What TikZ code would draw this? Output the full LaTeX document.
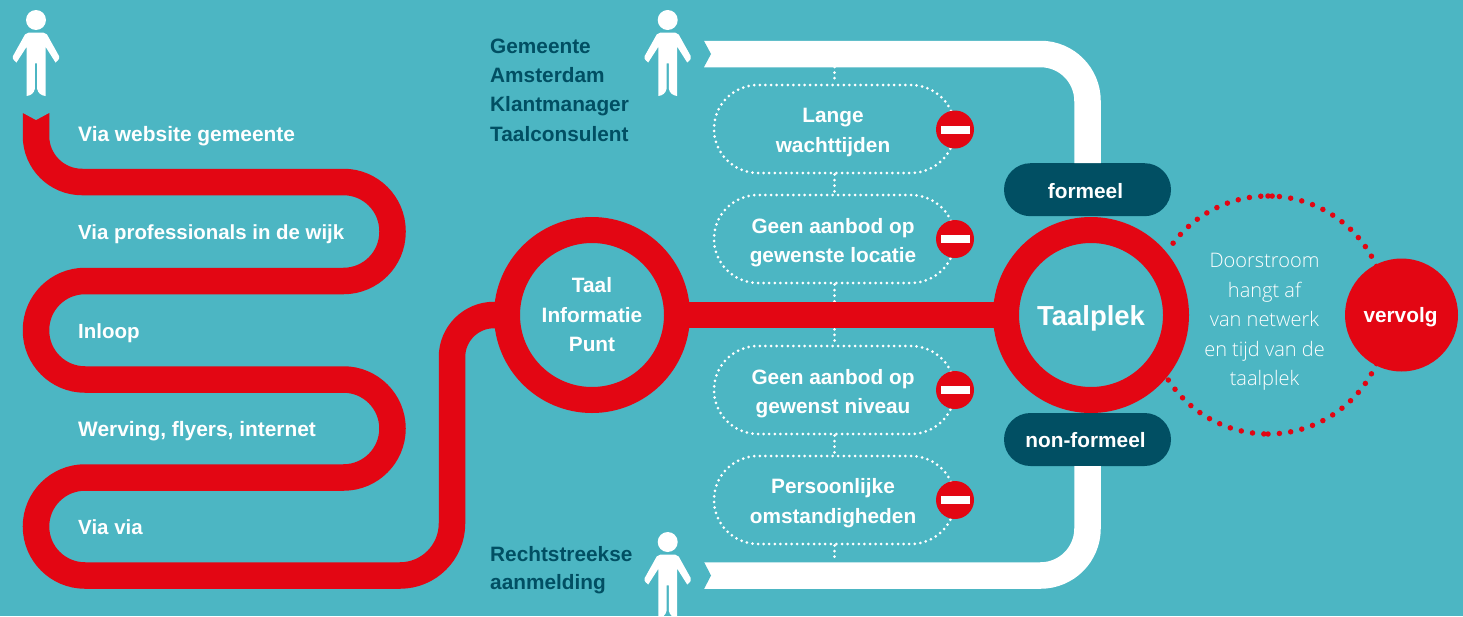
\documentclass[tikz,border=0pt]{standalone}
\usepackage{fontspec}
\setmainfont{Liberation Sans}
\newfontfamily\lightfont{Open Sans Light}
\definecolor{bg}{HTML}{4CB6C3}
\definecolor{rd}{HTML}{E30613}
\definecolor{dk}{HTML}{014F63}
\newcommand{\fs}[2]{\fontsize{#1}{#2}\selectfont}
\tikzset{
  person/.pic={
    \fill[white] (0,0) circle (10);
    \fill[white] (-7.5,12.7) .. controls (-9,12.7) and (-10,13) .. (-11,14.5) -- (-23,36)
      .. controls (-23.7,37.5) and (-23.5,39.5) .. (-19.5,42.5) -- (-9.3,26.7) -- (-9.3,76)
      .. controls (-5,75.5) and (-2,73) .. (-1.2,69) -- (-1.2,43.3) -- (1.2,43.3) -- (1.2,69)
      .. controls (2,73) and (5,75.5) .. (9.5,76) -- (9.5,26.7) -- (19.5,42.5)
      .. controls (23.5,39.5) and (23.7,37.5) .. (23,36) -- (11,14.5)
      .. controls (10,13) and (9,12.7) .. (7.5,12.7) -- cycle;
  },
  ring/.style={circle,draw=rd,line width=26pt,minimum size=170pt,inner sep=0pt,outer sep=0pt,text=white,align=center,font=\bfseries\fs{20.8}{29.5}},
  tag/.style={fill=dk,rounded corners=26.5pt,minimum width=167pt,minimum height=53pt,inner sep=0pt,text=white,font=\bfseries\fs{20.8}{24},text depth=0pt},
  barrier/.style={draw=white,line width=3pt,dash pattern=on 0pt off 5.6pt,line cap=round,rounded corners=44pt,minimum width=241pt,minimum height=88pt,inner sep=0pt},
  barriertext/.style={align=center,text=white,inner sep=0pt,font=\bfseries\fs{20.8}{29.5}},
  dotline/.style={draw=white,line width=3pt,dash pattern=on 0pt off 5.6pt,line cap=round},
  reddots/.style={draw=rd,line width=5.5pt,dash pattern=on 0pt off 11.4pt,line cap=round},
  stopdisc/.style={circle,fill=rd,minimum size=38pt,inner sep=0pt},
  stopbar/.style={fill=white,minimum width=29pt,minimum height=8pt,inner sep=0pt},
  routelabel/.style={anchor=base west,text=white,font=\bfseries\fs{20.9}{24},inner sep=0pt},
  actor/.style={anchor=base west,text=dk,font=\bfseries\fs{20.8}{24},inner sep=0pt},
  redroute/.style={draw=rd,line width=26.5pt},
  whiteroute/.style={draw=white,line width=26.5pt},
}
\begin{document}
\begin{tikzpicture}[x=1pt,y=-1pt]
\useasboundingbox (0,0) rectangle (1463,616);
\fill[bg] (0,0) rectangle (1463,616);
\clip (0,0) rectangle (1463,616);

\coordinate (redstart) at (36,113);
\coordinate (topstart) at (704,54);
\coordinate (botstart) at (704,575.5);
\coordinate (topband) at (834.5,67);
\coordinate (botband) at (834.5,562);

% dotted loop to vervolg
\draw[reddots] plot[domain=90:24,samples=60] ({1268+119*cos(\x)},{315-119*sin(\x)});
\draw[reddots] plot[domain=88:145,samples=60] ({1268+119*cos(\x)},{315-119*sin(\x)});
\draw[reddots] plot[domain=270:336,samples=60] ({1268+119*cos(\x)},{315-119*sin(\x)});
\draw[reddots] plot[domain=268:212,samples=60] ({1268+119*cos(\x)},{315-119*sin(\x)});

% white routes
\node[tag,text height=17pt] (formeel) at (1087.5,189.7) {\hspace*{-4pt}formeel};
\node[tag,text height=15pt] (nonformeel) at (1087.5,439.5) {\hspace*{-4pt}non-formeel};
\draw[whiteroute,rounded corners=47pt] (topstart) -- (1087.5,54) -- (formeel.north);
\draw[whiteroute,rounded corners=47pt] (botstart) -- (1087.5,575.5) -- (nonformeel.south);
\fill[bg] (704,41) -- (711,54) -- (704,67) -- cycle;
\fill[bg] (704,562) -- (711,575.5) -- (704,589) -- cycle;

% barriers
\node[barrier] (b1) at (834.5,129) {};
\node[barrier] (b2) at (834.5,239) {};
\node[barrier] (b3) at (834.5,390) {};
\node[barrier] (b4) at (834.5,500) {};
\node[barriertext] (t1) at (833,132.5) {Lange\\wachttijden};
\node[barriertext] (t2) at (833,242.5) {Geen aanbod op\\gewenste locatie};
\node[barriertext] (t3) at (833,393.5) {Geen aanbod op\\gewenst niveau};
\node[barriertext] (t4) at (833,503) {Persoonlijke\\omstandigheden};
\draw[dotline] (topband) -- (b1.north);
\draw[dotline] (b1.south) -- (b2.north);
\draw[dotline] (b2.south) -- (b3.north);
\draw[dotline] (b3.south) -- (b4.north);
\draw[dotline] (b4.south) -- (botband);

% rings and red routes
\node[ring] (taal) at (592,315) {Taal\\Informatie\\Punt};
\node[ring,font=\bfseries\fs{27.5}{32},text height=20pt,text depth=0pt] (plek) at (1091,315) {Taalplek};
\draw[rd,line width=26.5pt] (taal.east) -- (plek.west);
\draw[redroute,rounded corners=46pt] (redstart) -- (36,182)
  [rounded corners=49pt] -- (392.5,182) -- (392.5,281) -- (36,281) -- (36,379.5) -- (392.5,379.5) -- (392.5,477.5) -- (36,477.5) -- (36,575.5)
  [rounded corners=52pt] -- (452,575.5)
  [rounded corners=42pt] -- (452,315) -- (taal.west);
\fill[bg] (23,113) -- (36,120) -- (49,113) -- cycle;

\node[circle,fill=rd,minimum size=113pt,inner sep=0pt,text=white,font=\bfseries\fs{20.8}{24},text height=15.4pt,text depth=0pt] (vervolg) at (1401.5,315) {\hspace*{-2pt}vervolg};

% stop signs
\foreach \n/\y in {s1/129.5,s2/239,s3/390,s4/500}{
  \node[stopdisc] (\n) at (955,\y) {};
  \node[stopbar] at (\n) {};
}

% persons
\pic at (36,20) {person};
\pic at (667.7,20) {person};
\pic at (667.7,542) {person};

% texts
\node[routelabel] (l1) at (78,141.5) {Via website gemeente};
\node[routelabel,font=\bfseries\fs{20.4}{24}] (l2) at (78,239.5) {Via professionals in de wijk};
\node[routelabel,font=\bfseries\fs{20.5}{24}] (l3) at (78,338) {Inloop};
\node[routelabel] (l4) at (78,436) {Werving, flyers, internet};
\node[routelabel,font=\bfseries\fs{20.5}{24}] (l5) at (78,534.5) {Via via};
\node[actor] (a1) at (490,53) {Gemeente};
\node[actor] (a2) at (490,82) {Amsterdam};
\node[actor] (a3) at (490,111.5) {Klantmanager};
\node[actor] (a4) at (490,141) {Taalconsulent};
\node[actor] (a5) at (490,561) {Rechtstreekse};
\node[actor] (a6) at (490,589) {aanmelding};
\node[align=center,text=white,inner sep=0pt,font=\lightfont\fs{20}{29.5}] (door) at (1264.5,322) {Doorstroom\\hangt af\\van netwerk\\en tijd van de\\taalplek};
\end{tikzpicture}
\end{document}
